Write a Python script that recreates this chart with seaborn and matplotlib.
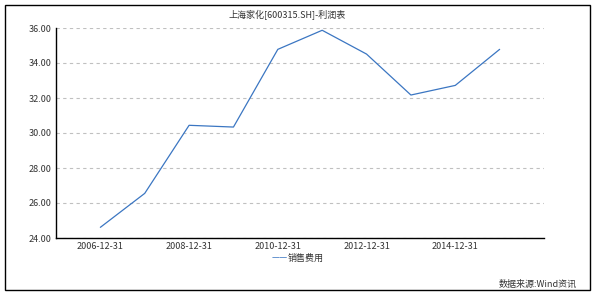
import matplotlib
matplotlib.use("Agg")
import matplotlib.pyplot as plt
import seaborn as sns
import pandas as pd
from matplotlib.patches import Rectangle

dates = ["2006-12-31", "2007-12-31", "2008-12-31", "2009-12-31", "2010-12-31",
         "2011-12-31", "2012-12-31", "2013-12-31", "2014-12-31", "2015-12-31"]
values = [24.61, 26.55, 30.44, 30.34, 34.78, 35.87, 34.51, 32.17, 32.72, 34.78]
series_name = "销售费用"
title = "上海家化[600315.SH]-利润表"
source = "数据来源:Wind资讯"
yticks = [24, 26, 28, 30, 32, 34, 36]
xtick_labels = ["2006-12-31", "2008-12-31", "2010-12-31", "2012-12-31", "2014-12-31"]

sns.set_theme(style="white")
plt.rcParams['font.family'] = ['Noto Sans CJK SC', 'DejaVu Sans']

df = pd.DataFrame({"date": dates, "value": values})

fig = plt.figure(figsize=(5.97, 2.95), dpi=100)
ax = fig.add_axes([56/597, 1 - 238/295, (544-56)/597, (238-28)/295])

sns.lineplot(data=df, x="date", y="value", ax=ax, color="#3b76c2", linewidth=0.9,
             legend=False)

ax.set_xlim(-1, len(dates))
ax.set_ylim(24, 36)
ax.set_yticks(yticks)
ax.set_yticklabels([f"{v:.2f}" for v in yticks], fontsize=6.5, color="#333333")
ax.set_xticks([dates.index(d) for d in xtick_labels])
ax.set_xticklabels(xtick_labels, fontsize=6.5, color="#333333")
ax.tick_params(axis="both", length=0, pad=3)
ax.set_xlabel("")
ax.set_ylabel("")
ax.grid(axis="y", color="#c0c0c0", linestyle=(0, (3, 3)), linewidth=0.8)
for s in ["top", "right"]:
    ax.spines[s].set_visible(False)
for s in ["left", "bottom"]:
    ax.spines[s].set_color("black")
    ax.spines[s].set_linewidth(1.0)

fig.text(287/597, 1 - 15/295, title, ha="center", va="center", fontsize=6.5, color="#333333")
fig.text(288/597, 1 - 258/295, "——", ha="right", va="center", fontsize=6.5, color="#3b76c2")
fig.text(288/597, 1 - 258/295, series_name, ha="left", va="center", fontsize=6.5, color="#333333")
fig.text(577/597, 1 - 284/295, source, ha="right", va="center", fontsize=6.5, color="#333333")

fig.patches.append(Rectangle((5/597, 5/295), 585/597, 285/295, transform=fig.transFigure,
                             fill=False, edgecolor="black", linewidth=1.0))

fig.savefig("out.png", dpi=100)
